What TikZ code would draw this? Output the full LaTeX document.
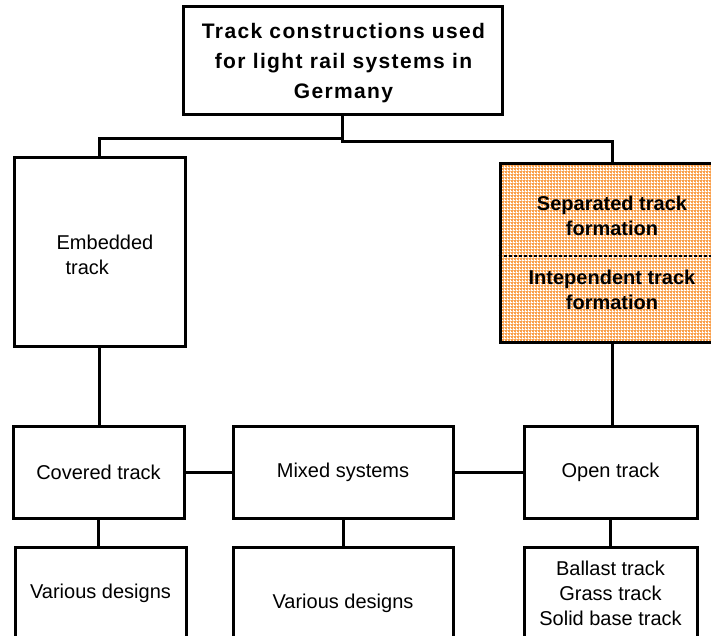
\documentclass[tikz,border=0pt]{standalone}
\usepackage{fontspec}
\setmainfont{Liberation Sans}
\newfontfamily\spacedfont[LetterSpace=6.5]{Liberation Sans}
\usetikzlibrary{patterns}
\pgfdeclarepatternformonly{ogrid}{\pgfpointorigin}{\pgfqpoint{3pt}{3pt}}{\pgfqpoint{3pt}{3pt}}{%
  \pgfpathrectangle{\pgfpointorigin}{\pgfqpoint{3pt}{1pt}}%
  \pgfpathrectangle{\pgfpointorigin}{\pgfqpoint{1pt}{3pt}}%
  \pgfusepath{fill}}
\definecolor{gridorange}{RGB}{250,160,75}
\begin{document}
\begin{tikzpicture}[x=1pt,y=-1pt,
  box/.style={draw, line width=3pt, rectangle, inner sep=0pt},
  conn/.style={line width=3pt},
  txt/.style={font=\fontsize{20}{25}\selectfont, align=center, inner sep=0pt},
  btxt/.style={font=\fontsize{20}{25}\selectfont\bfseries, align=center, inner sep=0pt},
  ttxt/.style={font=\spacedfont\fontsize{21}{30}\selectfont\bfseries, align=center, inner sep=0pt}]
\useasboundingbox (0,0) rectangle (711,636);
% boxes
\node[box, minimum width=319pt, minimum height=108pt] (top) at (342.5,61) {};
\node[ttxt] (toptxt) at (343.5,63) {Track constructions used\\for light rail systems in\\Germany};
\node[box, minimum width=171pt, minimum height=188pt] (emb) at (99.5,252) {};
\node[txt, align=left] (embtxt) at (105,255) {Embedded\\\hspace*{9pt}track};
\node[box, preaction={fill=gridorange}, pattern=ogrid, pattern color=white,
      minimum width=224pt, minimum height=178pt] (sep) at (612,253) {};
\draw[line width=1.2pt, dash pattern=on 3pt off 2pt] ([yshift=-3pt]sep.west) -- ([yshift=-3pt]sep.east);
\node[btxt] (septxt) at (612,215.5) {Separated track\\formation};
\node[btxt] (indtxt) at (612,290) {Intependent track\\formation};
\node[box, txt, minimum width=171pt, minimum height=92pt] (cov) at (98.5,472) {Covered track};
\node[box, txt, minimum width=220pt, minimum height=92pt] (mix) at (343,472) {Mixed systems};
\node[box, txt, minimum width=173pt, minimum height=92pt] (open) at (610.5,472) {Open track};
\node[box, txt, minimum width=171pt, minimum height=92pt] (vd1) at (100.5,593) {Various designs};
\node[box, txt, minimum width=220pt, minimum height=112pt] (vd2) at (343,603) {Various designs};
\node[box, txt, minimum width=173pt, minimum height=92pt] (bal) at (610.5,593.5) {Ballast track\\Grass track\\Solid base track};
% connectors
\draw[conn] (top.south) -- ++(0,22) -| (emb.north);
\draw[conn] (top.south) -- ++(0,25) -| (sep.north);
\draw[conn] (emb.south) -- (emb.south |- cov.north);
\draw[conn] (sep.south) -- (sep.south |- open.north);
\draw[conn] (cov.east) -- (mix.west);
\draw[conn] (mix.east) -- (open.west);
\draw[conn] (cov.south) -- (cov.south |- vd1.north);
\draw[conn] (mix.south) -- (vd2.north);
\draw[conn] (open.south) -- (open.south |- bal.north);
\end{tikzpicture}
\end{document}
